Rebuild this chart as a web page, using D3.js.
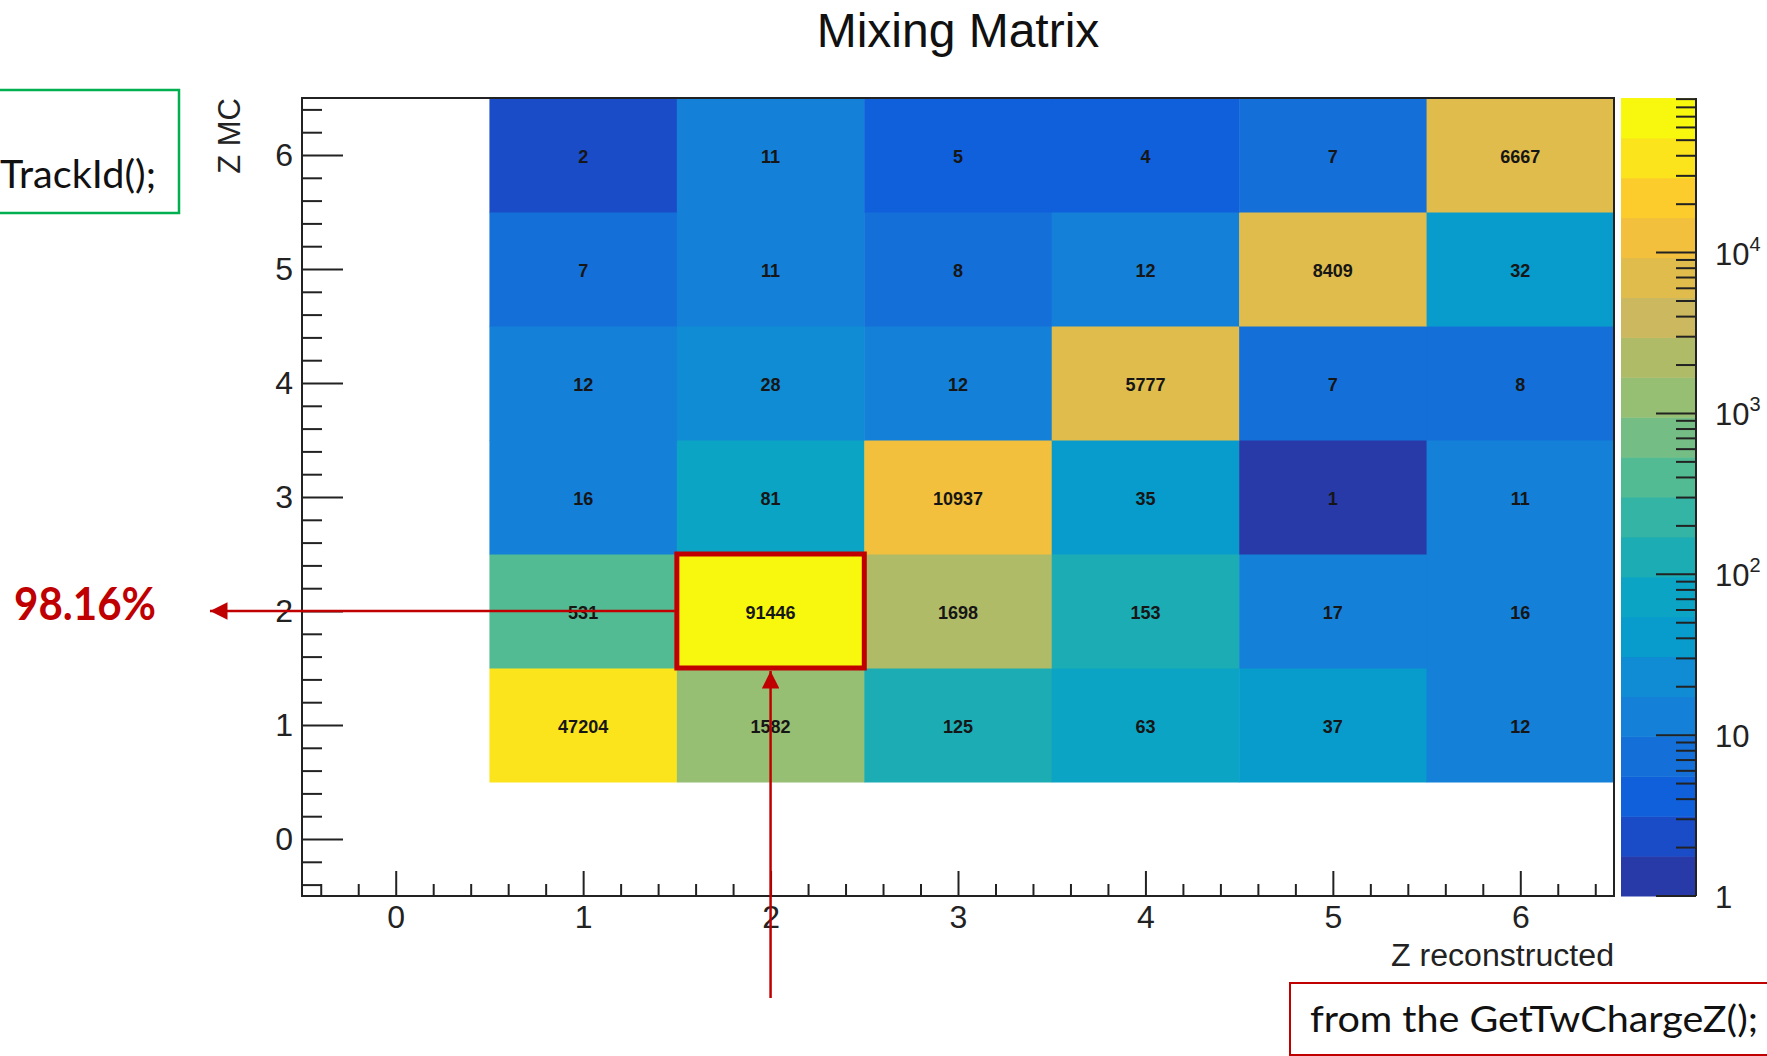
<!DOCTYPE html>
<html>
<head>
<meta charset="utf-8">
<script src="https://cdn.jsdelivr.net/npm/d3@7"></script>
<style>
  html, body { margin: 0; padding: 0; background: #ffffff; }
  svg { display: block; }
</style>
</head>
<body>
<svg id="chart" width="1767" height="1056"></svg>
<script>
// bins of the mixing matrix
const zReco = [1, 2, 3, 4, 5, 6];
const zMC = [1, 2, 3, 4, 5, 6];

// counts per Z MC row, columns = Z reconstructed 1..6
const zmc1 = [47204, 1582, 125, 63, 37, 12];
const zmc2 = [531, 91446, 1698, 153, 17, 16];
const zmc3 = [16, 81, 10937, 35, 1, 11];
const zmc4 = [12, 28, 12, 5777, 7, 8];
const zmc5 = [7, 11, 8, 12, 8409, 32];
const zmc6 = [2, 11, 5, 4, 7, 6667];

const axisTicks = [0, 1, 2, 3, 4, 5, 6];
const paletteTicks = [1, 10, 100, 1000, 10000];
const paletteLabels = ["1", "10", "10|2", "10|3", "10|4"];

// 20 contour colours, bottom to top
const bandColors = [
  "#283aa8", "#1a4cc8", "#1060dc", "#1470d8", "#1480d8",
  "#108cd4", "#089ccc", "#0ca4c4", "#1cacb4", "#34b4a4",
  "#52bb94", "#74bd84", "#96bf74", "#b0bb68", "#ccb85e",
  "#e0bc4c", "#f2c03c", "#fbcc2c", "#fbe41c", "#f8f80e"
];

const rows = [zmc1, zmc2, zmc3, zmc4, zmc5, zmc6];
const cells = [];
rows.forEach((r, i) => {
  r.forEach((v, j) => cells.push({ mc: zMC[i], reco: zReco[j], value: v }));
});

const svg = d3.select("#chart");
const font = "'Liberation Sans', Arial, Helvetica, sans-serif";
const slideFont = "Lato, 'Open Sans', sans-serif";

const x = d3.scaleLinear().domain([-0.5, 6.5]).range([302, 1614]);
const y = d3.scaleLinear().domain([-0.5, 6.5]).range([896, 98]);

const zMin = d3.min(cells, d => d.value);
const zMax = d3.max(cells, d => d.value);
const nLevels = bandColors.length;
const zLevel = d3.scaleLog().domain([zMin, zMax]).range([0, nLevels]);
const colorOf = v => bandColors[Math.max(0, Math.min(nLevels - 1, Math.floor(zLevel(v))))];

// title
svg.append("text")
  .attr("x", 958).attr("y", 47)
  .attr("text-anchor", "middle")
  .style("font-family", font).style("font-size", "48px")
  .style("fill", "#111")
  .text("Mixing Matrix");

// cells
const cellW = x(1) - x(0);
const cellH = y(0) - y(1);
svg.append("g").selectAll("rect")
  .data(cells)
  .enter()
  .append("rect")
  .attr("x", d => x(d.reco - 0.5))
  .attr("y", d => y(d.mc + 0.5))
  .attr("width", cellW + 0.5)
  .attr("height", cellH + 0.5)
  .attr("fill", d => colorOf(d.value));

svg.append("g").selectAll("text")
  .data(cells)
  .enter()
  .append("text")
  .attr("x", d => x(d.reco))
  .attr("y", d => y(d.mc))
  .attr("dy", "0.45em")
  .attr("text-anchor", "middle")
  .style("font-family", font).style("font-size", "18px").style("font-weight", "bold")
  .style("fill", "#161616")
  .text(d => d.value);

// frame
svg.append("rect")
  .attr("x", x(-0.5)).attr("y", y(6.5))
  .attr("width", x(6.5) - x(-0.5)).attr("height", y(-0.5) - y(6.5))
  .attr("fill", "none").attr("stroke", "#222").attr("stroke-width", 2);

// axes
const minorVals = d3.range(-0.4, 6.5, 0.2).filter(v => Math.abs(v - Math.round(v)) > 0.05);

function styleAxis(g) {
  g.select(".domain").remove();
  g.selectAll(".tick line").attr("stroke", "#222").attr("stroke-width", 2);
  g.selectAll("text").style("font-family", font).style("font-size", "32px").style("fill", "#222");
}

const yAxis = svg.append("g")
  .attr("transform", `translate(${x(-0.5)},0)`)
  .call(d3.axisLeft(y).tickValues(axisTicks).tickSizeInner(-41).tickSizeOuter(0).tickPadding(9).tickFormat(d3.format("d")));
styleAxis(yAxis);
const yMinor = svg.append("g")
  .attr("transform", `translate(${x(-0.5)},0)`)
  .call(d3.axisLeft(y).tickValues(minorVals).tickSizeInner(-20).tickSizeOuter(0).tickFormat(""));
styleAxis(yMinor);

const xAxis = svg.append("g")
  .attr("transform", `translate(0,${y(-0.5)})`)
  .call(d3.axisBottom(x).tickValues(axisTicks).tickSizeInner(-25).tickSizeOuter(0).tickPadding(9).tickFormat(d3.format("d")));
styleAxis(xAxis);
const xMinor = svg.append("g")
  .attr("transform", `translate(0,${y(-0.5)})`)
  .call(d3.axisBottom(x).tickValues(minorVals).tickSizeInner(-12).tickSizeOuter(0).tickFormat(""));
styleAxis(xMinor);

svg.append("text")
  .attr("x", x(6.5)).attr("y", 966)
  .attr("text-anchor", "end")
  .attr("textLength", 223).attr("lengthAdjust", "spacingAndGlyphs")
  .style("font-family", font).style("font-size", "31px").style("fill", "#222")
  .text("Z reconstructed");

svg.append("text")
  .attr("transform", `translate(240,${y(6.5)}) rotate(-90)`)
  .attr("text-anchor", "end")
  .style("font-family", font).style("font-size", "31px").style("fill", "#222")
  .text("Z MC");

// palette
const palX = 1621, palW = 75;
const zy = d3.scaleLog().domain([zMin, zMax]).range([y(-0.5), y(6.5)]);
const bands = d3.range(nLevels).map(i => ({ lo: zLevel.invert(i), hi: zLevel.invert(i + 1), color: bandColors[i] }));

svg.append("g").selectAll("rect")
  .data(bands)
  .enter()
  .append("rect")
  .attr("x", palX)
  .attr("y", d => zy(d.hi))
  .attr("width", palW)
  .attr("height", d => zy(d.lo) - zy(d.hi) + 0.5)
  .attr("fill", d => d.color);

const palAxisX = palX + palW;
svg.append("line")
  .attr("x1", palAxisX).attr("x2", palAxisX)
  .attr("y1", zy(zMax)).attr("y2", zy(zMin))
  .attr("stroke", "#222").attr("stroke-width", 2);

const palMinor = [];
paletteTicks.forEach(t => {
  for (let k = 2; k <= 9; k++) if (t * k <= zMax) palMinor.push(t * k);
});

svg.append("g").selectAll("line")
  .data(palMinor)
  .enter()
  .append("line")
  .attr("x1", palAxisX - 20).attr("x2", palAxisX)
  .attr("y1", d => zy(d)).attr("y2", d => zy(d))
  .attr("stroke", "#222").attr("stroke-width", 2);

svg.append("g").selectAll("line")
  .data(paletteTicks)
  .enter()
  .append("line")
  .attr("x1", palAxisX - 40).attr("x2", palAxisX)
  .attr("y1", d => zy(d)).attr("y2", d => zy(d))
  .attr("stroke", "#222").attr("stroke-width", 2);

const palText = svg.append("g").selectAll("text")
  .data(paletteTicks)
  .enter()
  .append("text")
  .attr("x", 1715)
  .attr("y", d => zy(d) + 12)
  .style("font-family", font).style("font-size", "31px").style("fill", "#222");

palText.each(function(d, i) {
  const parts = paletteLabels[i].split("|");
  const t = d3.select(this);
  t.append("tspan").text(parts[0]);
  if (parts[1]) {
    t.append("tspan").attr("dy", -14).style("font-size", "20px").text(parts[1]);
  }
});

// slide annotations
const red = "#c00000";

svg.append("rect")
  .attr("x", -5).attr("y", 90).attr("width", 184).attr("height", 123)
  .attr("fill", "none").attr("stroke", "#00b050").attr("stroke-width", 2.5);
svg.append("text")
  .attr("x", 156).attr("y", 188)
  .attr("text-anchor", "end")
  .attr("textLength", 156).attr("lengthAdjust", "spacingAndGlyphs")
  .style("font-family", slideFont).style("font-size", "38px").style("fill", "#111")
  .text("TrackId();");

svg.append("rect")
  .attr("x", 1290).attr("y", 983).attr("width", 520).attr("height", 72)
  .attr("fill", "none").attr("stroke", red).attr("stroke-width", 2);
svg.append("text")
  .attr("x", 1310).attr("y", 1032)
  .attr("textLength", 448).attr("lengthAdjust", "spacingAndGlyphs")
  .style("font-family", slideFont).style("font-size", "36px").style("fill", "#111")
  .text("from the GetTwChargeZ();");

svg.append("text")
  .attr("x", 14).attr("y", 620)
  .attr("textLength", 142).attr("lengthAdjust", "spacingAndGlyphs")
  .style("font-family", slideFont).style("font-size", "46px").style("font-weight", "bold").style("fill", red)
  .text("98.16%");

// highlight of the Z=2 diagonal cell
svg.append("rect")
  .attr("x", x(1.5)).attr("y", y(2.5))
  .attr("width", x(2.5) - x(1.5)).attr("height", y(1.5) - y(2.5))
  .attr("fill", "none").attr("stroke", red).attr("stroke-width", 5);

const defs = svg.append("defs");
defs.append("marker")
  .attr("id", "arrow")
  .attr("viewBox", "0 0 10 10")
  .attr("refX", 10).attr("refY", 5)
  .attr("markerWidth", 7).attr("markerHeight", 7)
  .attr("markerUnits", "strokeWidth")
  .attr("orient", "auto")
  .append("path")
  .attr("d", "M0,0 L10,5 L0,10 Z")
  .attr("fill", red);

svg.append("line")
  .attr("x1", x(1.5) - 2).attr("y1", y(2))
  .attr("x2", 210).attr("y2", y(2))
  .attr("stroke", red).attr("stroke-width", 2.5)
  .attr("marker-end", "url(#arrow)");

svg.append("line")
  .attr("x1", x(2)).attr("y1", 998)
  .attr("x2", x(2)).attr("y2", y(1.5) + 3)
  .attr("stroke", red).attr("stroke-width", 2.5)
  .attr("marker-end", "url(#arrow)");
</script>
</body>
</html>
